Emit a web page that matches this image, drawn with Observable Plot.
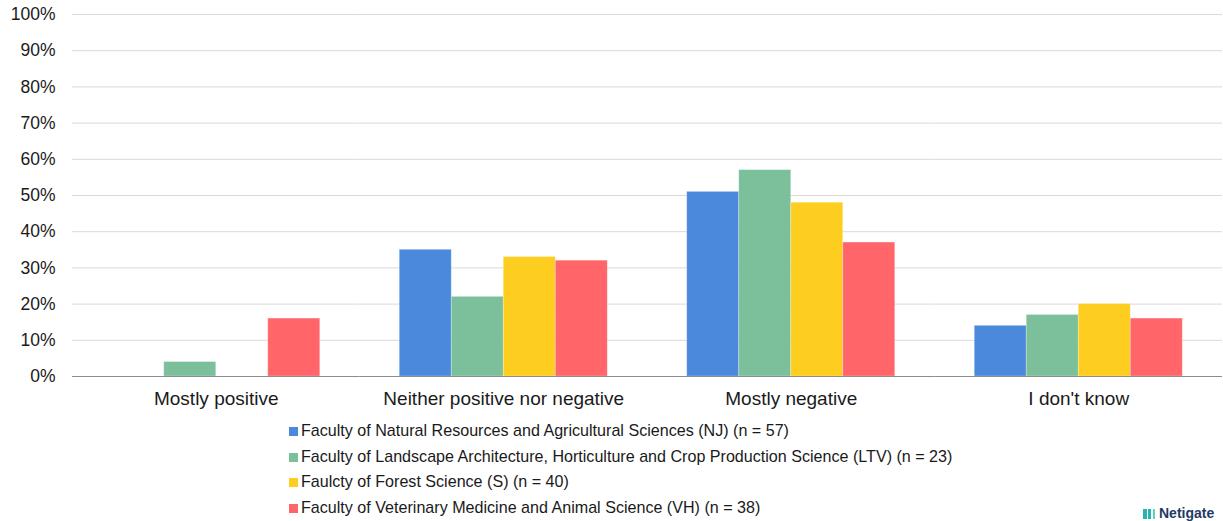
<!DOCTYPE html>
<html>
<head>
<meta charset="utf-8">
<script src="https://cdn.jsdelivr.net/npm/d3@7"></script>
<script src="https://cdn.jsdelivr.net/npm/@observablehq/plot@0.6"></script>
<style>
  html, body { margin: 0; padding: 0; background: #fff; width: 1223px; height: 521px; overflow: hidden; font-family: "Liberation Sans", Arial, sans-serif; }
  #chart { position: absolute; left: 0; top: 0; }
  #legend { position: absolute; left: 289px; top: 419px; font-size: 16.1px; color: #1a1a1a; }
  .item { height: 25.7px; line-height: 22px; white-space: nowrap; }
  .sw { display: inline-block; width: 9px; height: 9px; margin-right: 3px; vertical-align: 0px; }
  #logo { position: absolute; left: 1143px; top: 506px; font-size: 14px; line-height: 14px; font-weight: bold; color: #1f3b63; white-space: nowrap; }
  #logo .ic { display: inline-block; width: 12px; height: 10px; background: linear-gradient(90deg, #2bb3b1 0 30%, transparent 30% 40%, #2bb3b1 40% 70%, transparent 70% 80%, #5fd0c4 80%); margin-right: 4px; vertical-align: -1px; }
</style>
</head>
<body>
<div id="chart"></div>
<div id="legend"></div>
<div id="logo"><span class="ic"></span>Netigate</div>
<script>
const categories = ["Mostly positive", "Neither positive nor negative", "Mostly negative", "I don't know"];
const faculties = [
  "Faculty of Natural Resources and Agricultural Sciences (NJ) (n = 57)",
  "Faculty of Landscape Architecture, Horticulture and Crop Production Science (LTV) (n = 23)",
  "Faulcty of Forest Science (S) (n = 40)",
  "Faculty of Veterinary Medicine and Animal Science (VH) (n = 38)"
];
const colors = ["#4A89DC", "#7BBF9B", "#FDCE1F", "#FF6569"];
const valuesNJ  = [0, 35, 51, 14];
const valuesLTV = [4, 22, 57, 17];
const valuesS   = [0, 33, 48, 20];
const valuesVH  = [16, 32, 37, 16];
const yTicks = [0, 10, 20, 30, 40, 50, 60, 70, 80, 90, 100];

const series = [valuesNJ, valuesLTV, valuesS, valuesVH];
const data = [];
faculties.forEach((f, i) => categories.forEach((c, j) => data.push({category: c, faculty: f, value: series[i][j]})));

const chart = Plot.plot({
  width: 1223,
  height: 420,
  marginLeft: 72,
  marginRight: 1,
  marginTop: 14,
  marginBottom: 44,
  style: { fontFamily: "'Liberation Sans', Arial, sans-serif", fontSize: "17.5px", color: "#1a1a1a", background: "#fff" },
  fx: { domain: categories, padding: 0, round: false, label: null, axis: null },
  x: { domain: faculties, paddingInner: 0, paddingOuter: 0.764, round: false, axis: null },
  y: { domain: [0, 100], ticks: yTicks, tickFormat: d => d + "%", label: null, tickSize: 0, tickPadding: 17 },
  color: { domain: faculties, range: colors },
  marks: [
    Plot.gridY(yTicks, { stroke: "#d9d9d9", strokeOpacity: 1, strokeWidth: 1 }),
    Plot.barY(data, { fx: "category", x: "faculty", y: "value", fill: "faculty", stroke: "#fff", strokeOpacity: 0.35, strokeWidth: 0.8 }),
    Plot.ruleY([0], { stroke: "#8c8c8c", strokeWidth: 1.2 }),
    Plot.axisFx({ anchor: "bottom", tickSize: 0, tickPadding: 15, fontSize: 19, label: null })
  ]
});
document.getElementById("chart").appendChild(chart);

const legend = document.getElementById("legend");
faculties.forEach((f, i) => {
  const d = document.createElement("div");
  d.className = "item";
  const s = document.createElement("span");
  s.className = "sw";
  s.style.background = colors[i];
  d.appendChild(s);
  d.appendChild(document.createTextNode(f));
  legend.appendChild(d);
});
</script>
</body>
</html>
